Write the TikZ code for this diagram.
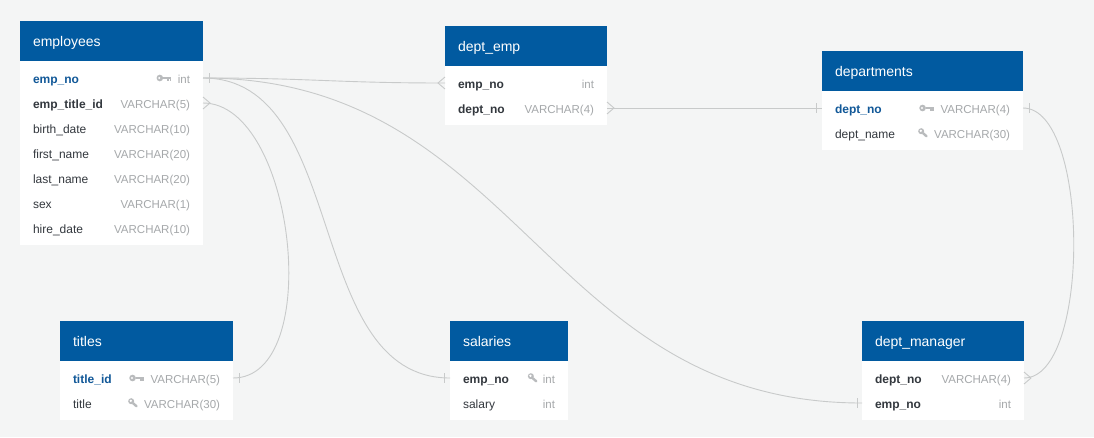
\documentclass[tikz,border=0pt]{standalone}
\usepackage{fontspec}
\setmainfont{Liberation Sans}
\usetikzlibrary{positioning}
\definecolor{bg}{RGB}{244,245,245}
\definecolor{hdr}{RGB}{1,90,160}
\definecolor{keyname}{RGB}{17,88,152}
\definecolor{namecol}{RGB}{51,56,62}
\definecolor{typecol}{RGB}{165,168,170}
\definecolor{iconcol}{RGB}{185,187,189}
\definecolor{linkcol}{RGB}{200,202,202}
\begin{document}
\begin{tikzpicture}[x=1pt,y=-1pt,
  head/.style={fill=hdr,text=white,anchor=north west,inner xsep=13pt,inner ysep=0pt,outer sep=0pt,minimum height=40pt,text width=#1,align=left,text height=12pt,text depth=1pt,font=\fontsize{14}{16}\selectfont},
  body/.style={fill=white,anchor=north west,inner sep=0pt,outer sep=0pt},
  row/.style={anchor=west,inner xsep=13pt,inner ysep=0pt,outer sep=0pt,text width=#1,align=left,minimum height=25pt,text height=11pt,text depth=1pt,text=namecol,font=\fontsize{12}{14}\selectfont},
  pk/.style={text=keyname,font=\bfseries\fontsize{12}{14}\selectfont},
  fk/.style={font=\bfseries\fontsize{12}{14}\selectfont},
  type/.style={anchor=east,inner xsep=13pt,inner ysep=0pt,outer sep=0pt,text height=11pt,text depth=1pt,text=typecol,font=\fontsize{11.5}{14}\selectfont},
  link/.style={draw=linkcol,line width=0.9pt},
  keyicon/.pic={\fill[iconcol] (-11,0) circle (3.3); \fill[white] (-11.6,0) circle (1.2);
    \fill[iconcol] (-8,-1.1) rectangle (0,1.1); \fill[iconcol] (-3.4,1) rectangle (-2,3.2); \fill[iconcol] (-1.3,1) rectangle (0,2.6);},
  lensicon/.pic={\fill[iconcol] (-7,-1.8) circle (3); \fill[white] (-7.4,-2.2) circle (1.3);
    \draw[iconcol,line width=2.4pt,line cap=round] (-5,0.3) -- (-1.6,3.3);},
  one/.pic={\draw[link] (0,-5) -- (0,5);},
  crow/.pic={\draw[link] (0,-6) -- (7,0) -- (0,6);}]
\fill[bg] (0,0) rectangle (1094,437);

% employees
\node[head=157pt] (employees) at (20,21) {employees};
\node[body,minimum width=183pt,minimum height=184pt] at (employees.south west) {};
\node[row=157pt,pk,yshift=-17pt] (emp_no) at (employees.south west) {emp\_no};
\node[type] (emp_no-t) at (emp_no.east) {int};
\pic at ([xshift=6pt]emp_no-t.west) {keyicon};
\node[row=157pt,fk,below=0pt of emp_no] (emp_title_id) {emp\_title\_id};
\node[type] at (emp_title_id.east) {VARCHAR(5)};
\node[row=157pt,below=0pt of emp_title_id] (birth_date) {birth\_date};
\node[type] at (birth_date.east) {VARCHAR(10)};
\node[row=157pt,below=0pt of birth_date] (first_name) {first\_name};
\node[type] at (first_name.east) {VARCHAR(20)};
\node[row=157pt,below=0pt of first_name] (last_name) {last\_name};
\node[type] at (last_name.east) {VARCHAR(20)};
\node[row=157pt,below=0pt of last_name] (sex) {sex};
\node[type] at (sex.east) {VARCHAR(1)};
\node[row=157pt,below=0pt of sex] (hire_date) {hire\_date};
\node[type] at (hire_date.east) {VARCHAR(10)};

% dept_emp
\node[head=136pt] (dept_emp) at (445,26) {dept\_emp};
\node[body,minimum width=162pt,minimum height=59pt] at (dept_emp.south west) {};
\node[row=136pt,fk,yshift=-17pt] (de_emp_no) at (dept_emp.south west) {emp\_no};
\node[type] at (de_emp_no.east) {int};
\node[row=136pt,fk,below=0pt of de_emp_no] (de_dept_no) {dept\_no};
\node[type] at (de_dept_no.east) {VARCHAR(4)};

% departments
\node[head=175pt] (departments) at (822,51) {departments};
\node[body,minimum width=201pt,minimum height=59pt] at (departments.south west) {};
\node[row=175pt,pk,yshift=-17pt] (dept_no) at (departments.south west) {dept\_no};
\node[type] (dept_no-t) at (dept_no.east) {VARCHAR(4)};
\pic at ([xshift=6pt]dept_no-t.west) {keyicon};
\node[row=175pt,below=0pt of dept_no] (dept_name) {dept\_name};
\node[type] (dept_name-t) at (dept_name.east) {VARCHAR(30)};
\pic at ([xshift=7pt]dept_name-t.west) {lensicon};

% titles
\node[head=147pt] (titles) at (60,321) {titles};
\node[body,minimum width=173pt,minimum height=59pt] at (titles.south west) {};
\node[row=147pt,pk,yshift=-17pt] (title_id) at (titles.south west) {title\_id};
\node[type] (title_id-t) at (title_id.east) {VARCHAR(5)};
\pic at ([xshift=6pt]title_id-t.west) {keyicon};
\node[row=147pt,below=0pt of title_id] (title) {title};
\node[type] (title-t) at (title.east) {VARCHAR(30)};
\pic at ([xshift=7pt]title-t.west) {lensicon};

% salaries
\node[head=92pt] (salaries) at (450,321) {salaries};
\node[body,minimum width=118pt,minimum height=59pt] at (salaries.south west) {};
\node[row=92pt,fk,yshift=-17pt] (sa_emp_no) at (salaries.south west) {emp\_no};
\node[type] (sa_emp_no-t) at (sa_emp_no.east) {int};
\pic at ([xshift=8pt]sa_emp_no-t.west) {lensicon};
\node[row=92pt,below=0pt of sa_emp_no] (salary) {salary};
\node[type] at (salary.east) {int};

% dept_manager
\node[head=136pt] (dept_manager) at (862,321) {dept\_manager};
\node[body,minimum width=162pt,minimum height=59pt] at (dept_manager.south west) {};
\node[row=136pt,fk,yshift=-17pt] (dm_dept_no) at (dept_manager.south west) {dept\_no};
\node[type] at (dm_dept_no.east) {VARCHAR(4)};
\node[row=136pt,fk,below=0pt of dm_dept_no] (dm_emp_no) {emp\_no};
\node[type] at (dm_emp_no.east) {int};

% relations
\draw[link] (emp_no.east) .. controls +(110,0) and +(-110,0) .. (de_emp_no.west);
\draw[link] (emp_no.east) .. controls +(147,0) and +(-147,0) .. (sa_emp_no.west);
\draw[link] (emp_no.east) .. controls +(317,0) and +(-317,0) .. (dm_emp_no.west);
\draw[link] (emp_title_id.east) .. controls +(92,0) and +(92,0) .. (title_id.east);
\draw[link] (de_dept_no.east) -- (dept_no.west);
\draw[link] (dept_no.east) .. controls +(67,0) and +(67,0) .. (dm_dept_no.east);
\pic at ([xshift=6pt]emp_no.east) {one};
\pic[xscale=-1] at (de_emp_no.west) {crow};
\pic at ([xshift=-6pt]sa_emp_no.west) {one};
\pic at ([xshift=-5pt]dm_emp_no.west) {one};
\pic at (emp_title_id.east) {crow};
\pic at ([xshift=6pt]title_id.east) {one};
\pic at (de_dept_no.east) {crow};
\pic at ([xshift=-6pt]dept_no.west) {one};
\pic at ([xshift=6pt]dept_no.east) {one};
\pic at (dm_dept_no.east) {crow};
\end{tikzpicture}
\end{document}
